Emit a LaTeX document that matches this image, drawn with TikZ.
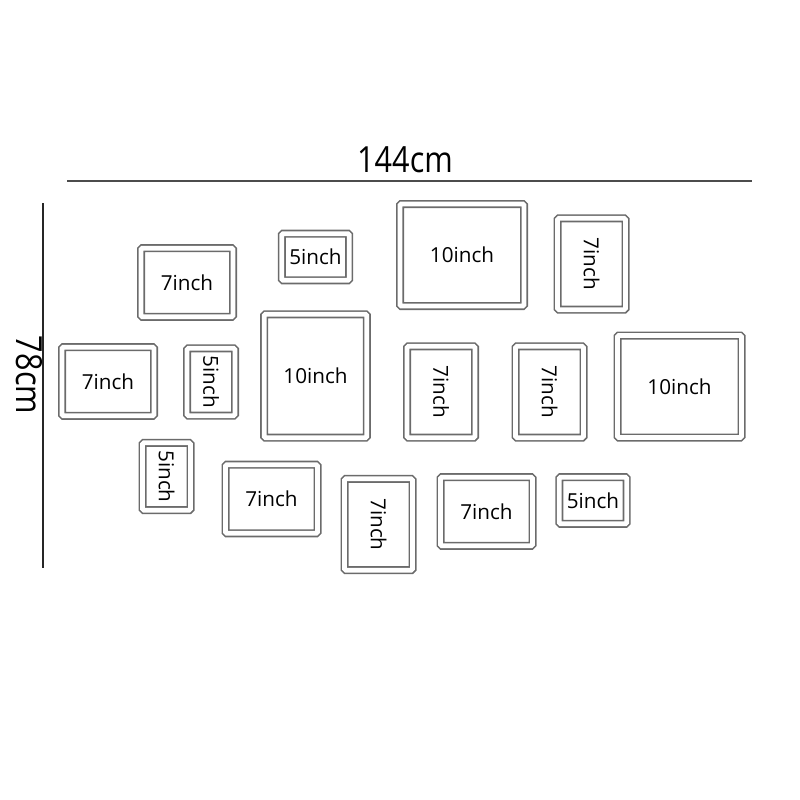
\documentclass[tikz,border=0pt]{standalone}
\usepackage{fontspec}
\setmainfont{Open Sans}

\begin{document}
\begin{tikzpicture}[x=0.75pt, y=-0.75pt, font=\fontsize{15.5}{18}\selectfont]
        \tikzset{
            photo/.style={
                draw=black!58,
                double=white,
                double distance=3.6pt,
                line width=1.2pt,
                rounded corners=1pt,
                inner sep=0pt,
                align=center
            },
            p10h/.style={photo, minimum width=93pt, minimum height=76.5pt},
            p10v/.style={photo, minimum width=77pt, minimum height=92.5pt},
            p7h/.style={photo, minimum width=69pt, minimum height=51.5pt},
            p7v/.style={photo, minimum width=51pt, minimum height=68.5pt},
            p5h/.style={photo, minimum width=50.5pt, minimum height=35pt},
            p5v/.style={photo, minimum width=36pt, minimum height=50.5pt},
            dimline/.style={line width=1.4pt, draw=black!70},
            dimlabel/.style={font=\fontsize{27}{30}\selectfont}
        }

        \useasboundingbox (0, 0) rectangle (800, 800);

        % dimensions
        \coordinate (topL) at (67, 181);
        \coordinate (topR) at (752, 181);
        \coordinate (sideT) at (43, 203);
        \coordinate (sideB) at (43, 568);
        \draw[dimline] (topL) -- (topR);
        \draw[dimline, draw=black!85, line width=1.1pt] (sideT) -- (sideB);
        \node[dimlabel] (width) at (405, 160) {\scalebox{0.85}[1]{144cm}};
        \node[dimlabel, rotate=-90] (height) at (29, 375) {\scalebox{0.85}[1]{78cm}};

        % top row
        \node[p7h] (f7a) at (187, 282.5) {7inch};
        \node[p5h] (f5a) at (315.5, 257) {5inch};
        \node[p10h] (f10a) at (462, 255) {10inch};
        \node[p7v] (f7b) at (591.5, 264) {\rotatebox{-90}{7inch}};

        % middle row
        \node[p7h] (f7c) at (108, 381.5) {7inch};
        \node[p5v] (f5b) at (211, 382) {\rotatebox{-90}{5inch}};
        \node[p10v] (f10b) at (315.5, 376) {10inch};
        \node[p7v] (f7d) at (441, 392) {\rotatebox{-90}{7inch}};
        \node[p7v] (f7e) at (549.5, 392) {\rotatebox{-90}{7inch}};
        \node[p10h] (f10c) at (679.5, 386.5) {10inch};

        % bottom row
        \node[p5v] (f5c) at (166.5, 476.5) {\rotatebox{-90}{5inch}};
        \node[p7h] (f7f) at (271.5, 499) {7inch};
        \node[p7v] (f7g) at (378.5, 524.5) {\rotatebox{-90}{7inch}};
        \node[p7h] (f7h) at (486.5, 511.5) {7inch};
        \node[p5h] (f5d) at (593, 500.5) {5inch};
    \end{tikzpicture}
\end{document}
